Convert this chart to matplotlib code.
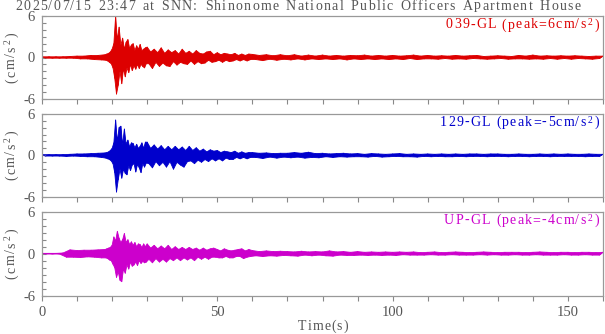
import re
import numpy as np
import matplotlib
matplotlib.use("Agg")
import matplotlib.pyplot as plt
from matplotlib.ticker import MultipleLocator

# ---- sampling grid of the read-off extrema (segment start, step, end) ----
SEG_START = [0, 18, 30, 60]
SEG_STEP = [1.0, 0.25, 0.5, 1.0]
SEG_END = [18, 30, 60, 161]

# ---- 039-GL (red): successive extrema, cm/s^2 ----
red_a = [0.1,-0.1,0.1,-0.1,0.1,-0.1,0.1,-0.1,0.15,-0.1,0.2,-0.2,0.2,-0.2,0.3,-0.3,0.3,-0.35]
red_b = [0.4,-0.4,0.5,-0.5,0.6,-0.7,0.8,-0.9,
         1.2,-1.5,2.0,-3.0,6.0,-5.3,2.5,-4.0,
         4.4,-2.0,1.8,-3.8,2.8,-1.6,1.2,-2.8,
         2.2,-1.5,2.6,-2.2,1.3,-1.0,1.8,-1.9,
         2.0,-1.2,1.0,-1.7,1.7,-1.0,1.2,-1.6,
         1.9,-1.0,1.0,-1.3,1.2,-1.5,1.4,-0.9]
red_c = [1.5,-0.9,0.8,-1.6,1.2,-0.7,0.7,-1.3,
         1.4,-0.8,0.6,-1.2,1.1,-1.3,0.7,-0.6,
         1.0,-1.1,0.5,-0.7,1.2,-0.9,0.6,-1.0,
         0.9,-0.5,0.5,-1.0,1.0,-0.6,0.6,-0.9,
         0.5,-0.8,0.8,-0.4,0.9,-0.7,0.4,-0.6,
         0.7,-0.4,0.4,-0.7,0.6,-0.4,0.5,-0.6,
         0.4,-0.5,0.6,-0.3,0.3,-0.5,0.5,-0.3,
         0.3,-0.5,0.5,-0.3]
red_d = [0.45,-0.3,0.3,-0.45,0.4,-0.25,0.25,-0.4,0.4,-0.25,
         0.25,-0.35,0.4,-0.2,0.2,-0.35,0.35,-0.2,0.2,-0.3,
         0.35,-0.2,0.2,-0.3,0.3,-0.2,0.2,-0.35,0.3,-0.2,
         0.25,-0.3,0.35,-0.2,0.2,-0.3,0.3,-0.2,0.2,-0.3,
         0.3,-0.2,0.2,-0.3,0.25,-0.15,0.35,-0.3,0.2,-0.2,
         0.3,-0.2,0.2,-0.25,0.25,-0.15,0.2,-0.25,0.3,-0.2,
         0.2,-0.25,0.25,-0.15,0.3,-0.2,0.15,-0.25,0.2,-0.2,
         0.25,-0.15,0.2,-0.25,0.15,-0.2,0.3,-0.2,0.2,-0.25,
         0.35,-0.2,0.2,-0.25,0.25,-0.15,0.2,-0.25,0.25,-0.15,
         0.2,-0.25,0.25,-0.15,0.2,-0.2,0.15,-0.25,0.2,-0.15,
         0.2]

# ---- 129-GL (blue) ----
blue_a = [0.1,-0.1,0.1,-0.1,0.1,-0.1,0.1,-0.15,0.15,-0.1,0.2,-0.15,0.2,-0.2,0.25,-0.2,0.3,-0.3]
blue_b = [0.35,-0.4,0.4,-0.5,0.5,-0.6,0.7,-0.8,
          1.0,-1.2,1.8,-2.5,5.1,-5.3,2.0,-3.5,
          4.0,-2.0,4.2,-3.3,1.5,-2.0,3.8,-2.6,
          1.6,-2.8,2.2,-1.5,1.2,-2.2,1.8,-1.4,
          1.7,-1.2,1.1,-2.4,1.6,-1.3,1.0,-1.8,
          1.3,-2.5,1.8,-1.2,1.0,-1.7,1.9,-1.1]
blue_c = [1.9,-1.2,1.0,-1.8,1.5,-0.9,0.9,-1.5,
          1.4,-1.0,0.8,-1.7,1.3,-0.9,0.8,-2.0,
          1.3,-1.0,0.8,-1.4,1.2,-1.7,0.7,-0.9,
          1.3,-0.8,0.7,-1.2,1.1,-0.7,0.6,-1.0,
          0.9,-0.6,0.5,-0.9,0.8,-0.5,0.6,-0.8,
          0.7,-0.5,0.4,-0.8,0.6,-0.4,0.5,-0.6,
          0.4,-0.6,0.6,-0.3,0.3,-0.5,0.5,-0.3,
          0.3,-0.5,0.4,-0.3]
blue_d = [0.4,-0.3,0.3,-0.45,0.35,-0.25,0.25,-0.4,0.3,-0.25,
          0.3,-0.35,0.4,-0.25,0.3,-0.4,0.45,-0.3,0.25,-0.35,
          0.3,-0.2,0.2,-0.3,0.25,-0.2,0.3,-0.25,0.2,-0.2,
          0.25,-0.2,0.15,-0.25,0.25,-0.15,0.2,-0.25,0.15,-0.2,
          0.2,-0.15,0.25,-0.2,0.15,-0.2,0.2,-0.25,0.15,-0.15,
          0.2,-0.2,0.15,-0.15,0.2,-0.2,0.15,-0.2,0.2,-0.15,
          0.15,-0.2,0.2,-0.15,0.2,-0.15,0.15,-0.2,0.2,-0.15,
          0.2,-0.15,0.15,-0.2,0.15,-0.15,0.2,-0.15,0.15,-0.2,
          0.15,-0.15,0.2,-0.15,0.15,-0.2,0.2,-0.15,0.15,-0.15,
          0.2,-0.15,0.15,-0.15,0.15,-0.2,0.2,-0.15,0.15,-0.15,
          0.15]

# ---- UP-GL (magenta) ----
mag_a = [0.05,-0.05,0.05,-0.05,0.05,-0.05,0.1,-0.5,0.55,-0.5,0.45,-0.55,0.5,-0.45,0.5,-0.5,0.55,-0.6]
mag_b = [0.6,-0.6,0.7,-0.7,0.8,-0.9,0.9,-1.0,
         1.2,-1.5,2.4,-2.0,1.8,-3.4,3.2,-2.6,
         2.2,-3.8,1.6,-4.0,2.0,-2.2,2.9,-2.8,
         1.6,-1.6,2.0,-2.2,1.3,-1.2,1.7,-1.8,
         1.2,-1.6,1.6,-1.2,1.0,-1.7,1.4,-1.0,
         1.3,-1.4,0.9,-1.1,1.4,-1.3,1.0,-1.2]
mag_c = [1.4,-0.8,0.8,-1.3,1.2,-0.7,0.7,-1.2,
         1.1,-0.8,0.7,-1.2,1.2,-0.7,0.6,-1.0,
         1.0,-0.6,0.6,-1.0,0.9,-0.6,0.6,-0.9,
         0.9,-0.6,0.6,-1.0,0.8,-0.5,0.5,-0.8,
         0.8,-0.5,0.5,-0.8,0.7,-0.5,0.8,-0.5,
         0.6,-0.6,0.4,-0.6,0.7,-0.4,0.5,-0.6,
         0.4,-0.6,0.5,-0.4,0.6,-0.4,0.7,-0.7,
         0.4,-0.5,0.6,-0.4]
mag_d = [0.45,-0.3,0.3,-0.4,0.4,-0.3,0.3,-0.35,0.35,-0.25,
         0.3,-0.3,0.25,-0.35,0.35,-0.2,0.25,-0.3,0.3,-0.2,
         0.25,-0.3,0.4,-0.35,0.25,-0.2,0.3,-0.25,0.2,-0.25,
         0.3,-0.2,0.2,-0.25,0.25,-0.2,0.2,-0.25,0.25,-0.2,
         0.2,-0.25,0.25,-0.15,0.2,-0.2,0.25,-0.2,0.15,-0.2,
         0.2,-0.15,0.25,-0.2,0.15,-0.2,0.2,-0.15,0.25,-0.2,
         0.2,-0.2,0.15,-0.2,0.2,-0.15,0.25,-0.2,0.2,-0.15,
         0.15,-0.2,0.2,-0.2,0.2,-0.15,0.2,-0.2,0.15,-0.2,
         0.2,-0.15,0.25,-0.2,0.2,-0.2,0.15,-0.2,0.2,-0.15,
         0.2,-0.2,0.15,-0.2,0.2,-0.15,0.2,-0.2,0.15,-0.2,
         0.2]

labels = ["039-GL (peak=6cm/s$^2$)", "129-GL (peak=-5cm/s$^2$)", "UP-GL (peak=-4cm/s$^2$)"]
colors = ["#dd0000", "#0000cc", "#cc00cc"]
title = "2025/07/15 23:47 at SNN: Shinonome National Public Officers Apartment House"
xlabel = "Time(s)"
ylabel = "(cm/s$^2$)"
xticks = [0, 50, 100, 150]
yticks = [-6, 0, 6]

series = [red_a + red_b + red_c + red_d,
          blue_a + blue_b + blue_c + blue_d,
          mag_a + mag_b + mag_c + mag_d]
t = np.concatenate([np.arange(s, e, st) for s, st, e in zip(SEG_START, SEG_STEP, SEG_END)])

plt.rcParams['font.family'] = ['Liberation Serif', 'DejaVu Serif']
plt.rcParams['mathtext.fontset'] = 'custom'
plt.rcParams['mathtext.rm'] = 'Liberation Serif'
plt.rcParams['axes.unicode_minus'] = False

gray = "#888888"
tgray = "#555555"
W, H = 605, 334
fig = plt.figure(figsize=(W / 100, H / 100), dpi=100)
renderer = fig.canvas.get_renderer()


def _w(s, size):
    tt = fig.text(0, 0, s, fontsize=size)
    w = tt.get_window_extent(renderer).width
    tt.remove()
    return w


def tracked(s, x, y, size, color, ha='left', gap=1.2, space_extra=0.0, rotation=0):
    """Draw text with letter spacing; x,y in pixels from top-left (baseline)."""
    toks = re.findall(r'\$[^$]*\$|.', s)
    sp = _w("x x", size) - _w("xx", size) + space_extra
    ws = [sp if tk == ' ' else _w(tk, size) for tk in toks]
    total = sum(ws) + gap * (len(toks) - 1)
    off = {'left': 0, 'center': total / 2, 'right': total}[ha]
    pos = -off
    for tk, w in zip(toks, ws):
        if tk != ' ':
            if rotation == 0:
                fig.text((x + pos) / W, 1 - y / H, tk, fontsize=size, color=color,
                         ha='left', va='baseline')
            else:
                fig.text(x / W, 1 - (y - pos) / H, tk, fontsize=size, color=color,
                         ha='left', va='baseline', rotation=90, rotation_mode='anchor')
        pos += w + gap


boxes = [(16, 99), (113.7, 197), (211.7, 295.7)]
for i, (top, bot) in enumerate(boxes):
    ax = fig.add_axes([42 / W, 1 - bot / H, 561 / W, (bot - top) / H])
    vals = np.array(series[i])
    tt = t[:len(vals)]
    up = vals > 0
    px = np.concatenate([tt[up], tt[~up][::-1]])
    py = np.concatenate([vals[up], vals[~up][::-1]])
    ax.fill(px, py, color=colors[i], lw=0.6)
    ax.plot(tt, vals, color=colors[i], lw=0.6)
    ax.set_xlim(0, 160)
    ax.set_ylim(-6, 6)
    ax.set_yticks(yticks)
    ax.set_xticks(xticks)
    ax.xaxis.set_minor_locator(MultipleLocator(10))
    ax.yaxis.set_minor_locator(MultipleLocator(1))
    ax.tick_params(axis='x', which='both', direction='out', length=3.6, width=0.8,
                   color=gray, labelsize=10.5, labelcolor=tgray, pad=3.5)
    ax.tick_params(axis='y', which='both', direction='in', length=3, width=0.8,
                   color=gray, labelsize=10.5, labelcolor=tgray, pad=5)
    for sp in ax.spines.values():
        sp.set_color("#999999")
        sp.set_linewidth(0.9)
    if i < 2:
        ax.tick_params(axis='x', labelbottom=False)
    tracked(labels[i], 599, top + 12.5, 10, colors[i], ha='right', gap=1.2)
    tracked(ylabel, 15, (top + bot) / 2, 10, tgray, ha='center', gap=1.4, rotation=90)

tracked(xlabel, 323, 330, 10, tgray, ha='center', gap=1.0)
tracked(title, 298, 9.5, 10, tgray, ha='center', gap=1.3, space_extra=1.5)
fig.savefig("out.png", dpi=100)
